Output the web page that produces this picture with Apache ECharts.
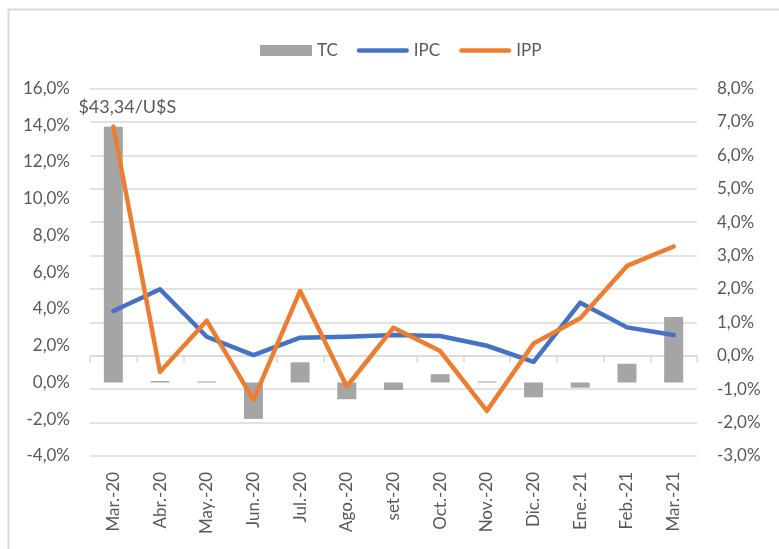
<!DOCTYPE html>
<html>
<head>
<meta charset="utf-8">
<script src="https://cdn.jsdelivr.net/npm/echarts@6/dist/echarts.min.js"></script>
<style>html,body{margin:0;padding:0;background:#fff}#c{width:779px;height:549px}</style>
</head>
<body>
<div id="c"></div>
<script>
const categories = ['Mar.-20','Abr.-20','May.-20','Jun.-20','Jul.-20','Ago.-20','set-20','Oct.-20','Nov.-20','Dic.-20','Ene.-21','Feb.-21','Mar.-21'];
const tcValues  = [13.92, 0.08, 0.06, -1.98, 1.10, -0.91, -0.41, 0.45, 0.06, -0.81, -0.28, 1.02, 3.56];
const ipcValues = [1.34, 1.99, 0.57, 0.02, 0.54, 0.57, 0.62, 0.59, 0.30, -0.18, 1.59, 0.85, 0.62];
const ippValues = [6.86, -0.48, 1.05, -1.32, 1.94, -0.92, 0.84, 0.14, -1.65, 0.37, 1.12, 2.69, 3.27];
const tcLabel = '$43,34/U$S';

const FONT = 'Lato';
const TXT = '#595959';
const fmt = v => v.toFixed(1).replace('.', ',') + '%';
const lineIcon = 'path://M2.25,0 L49.75,0 A2.25,2.25 0 0 1 49.75,4.5 L2.25,4.5 A2.25,2.25 0 0 1 2.25,0 Z';

const chart = echarts.init(document.getElementById('c'), null, {renderer: 'canvas'});
const tcData = tcValues.map((v, i) => i === 0 ? {
  value: v,
  label: {show: true, position: 'top', formatter: tcLabel, offset: [14, -6],
          color: TXT, fontFamily: FONT, fontSize: 18}
} : v);

chart.setOption({
  animation: false,
  textStyle: {fontFamily: FONT, color: TXT},
  graphic: [{
    type: 'rect', silent: true,
    shape: {x: 8.5, y: 9.5, width: 900, height: 700},
    style: {fill: 'none', stroke: '#D9D9D9', lineWidth: 2}
  }],
  legend: {
    left: 255, top: 37, itemGap: 19, itemWidth: 52, itemHeight: 11,
    symbolKeepAspect: true,
    textStyle: {fontFamily: FONT, fontSize: 17, color: TXT},
    data: [{name: 'TC', icon: 'rect'}, {name: 'IPC', icon: lineIcon}, {name: 'IPP', icon: lineIcon}]
  },
  grid: {left: 90, right: 82, top: 88.5, bottom: 93, containLabel: false},
  xAxis: [{
    type: 'category', data: categories, boundaryGap: true,
    axisLine: {show: false, onZero: false},
    axisTick: {show: false},
    axisLabel: {rotate: 90, margin: 16, color: TXT, fontFamily: FONT, fontSize: 17, interval: 0}
  }, {
    type: 'category', data: categories, boundaryGap: true, position: 'bottom',
    axisLine: {show: true, onZero: true, onZeroAxisIndex: 1, lineStyle: {color: '#D9D9D9', width: 1.5}},
    axisTick: {show: true, length: 7, interval: 0, lineStyle: {color: '#D9D9D9', width: 1.5}},
    axisLabel: {show: false},
    splitLine: {show: false}
  }],
  yAxis: [{
    type: 'value', min: -4, max: 16, interval: 2, position: 'left',
    axisLine: {show: false}, axisTick: {show: false}, splitLine: {show: false},
    axisLabel: {formatter: fmt, margin: 20, color: TXT, fontFamily: FONT, fontSize: 17}
  }, {
    type: 'value', min: -3, max: 8, interval: 1, position: 'right',
    axisLine: {show: false}, axisTick: {show: false},
    splitLine: {show: true, lineStyle: {color: '#D9D9D9', width: 1.5}},
    axisLabel: {formatter: fmt, margin: 20, color: TXT, fontFamily: FONT, fontSize: 17}
  }],
  series: [{
    name: 'TC', type: 'bar', xAxisIndex: 0, yAxisIndex: 0, data: tcData,
    barWidth: 19, itemStyle: {color: '#A5A5A5'}
  }, {
    name: 'IPC', type: 'line', xAxisIndex: 0, yAxisIndex: 1, data: ipcValues,
    symbol: 'none', lineStyle: {color: '#4472C4', width: 4.5, join: 'round', cap: 'round'},
    itemStyle: {color: '#4472C4'}
  }, {
    name: 'IPP', type: 'line', xAxisIndex: 0, yAxisIndex: 1, data: ippValues,
    symbol: 'none', lineStyle: {color: '#ED7D31', width: 4.5, join: 'round', cap: 'round'},
    itemStyle: {color: '#ED7D31'}
  }]
});
</script>
</body>
</html>
